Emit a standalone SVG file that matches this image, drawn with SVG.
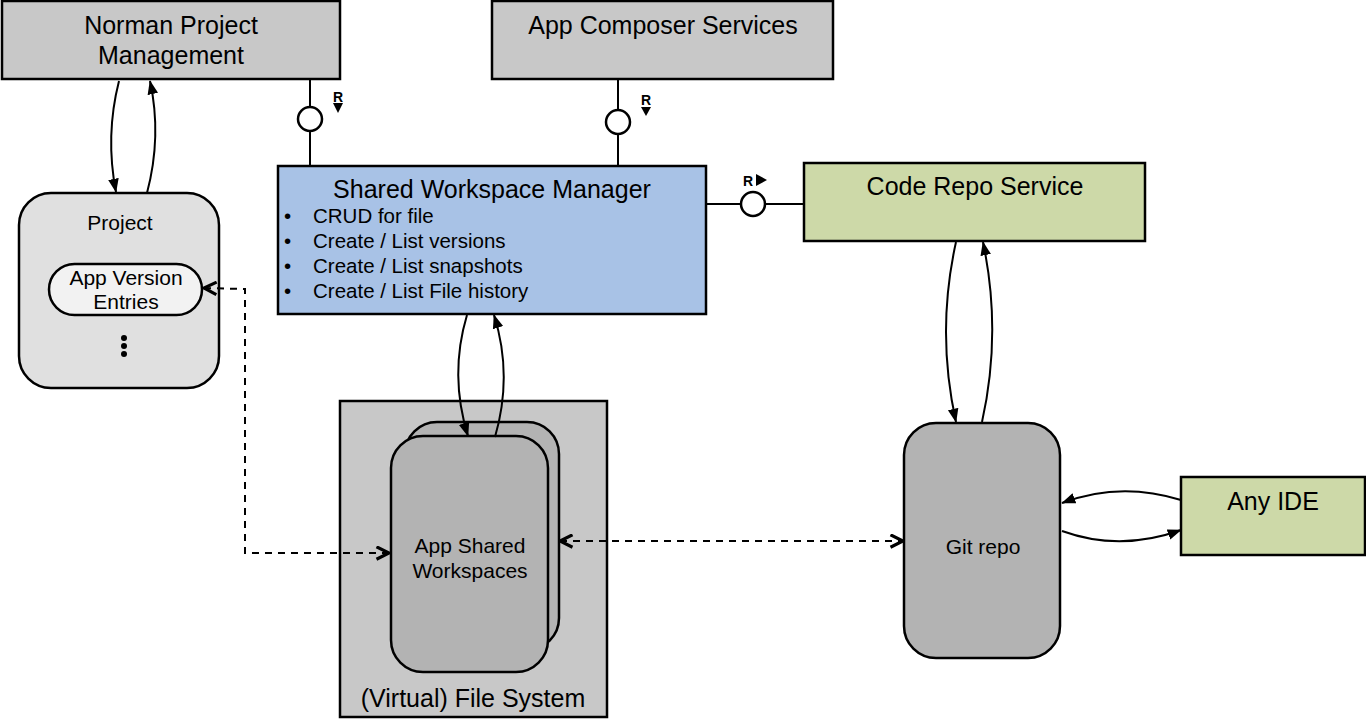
<svg xmlns="http://www.w3.org/2000/svg" width="1366" height="720" viewBox="0 0 1366 720">
<style>
text{font-family:"Liberation Sans",Arial,sans-serif;fill:#000}
.box{stroke:#000;stroke-width:2.5}
.t22{font-size:25px;text-anchor:middle}
.t18{font-size:21px;text-anchor:middle}
.b18{font-size:20.5px}
.ln{fill:none;stroke:#000;stroke-width:2}
.dash{fill:none;stroke:#000;stroke-width:2;stroke-dasharray:7,6}
.r{font-size:14px;font-weight:bold;text-anchor:middle}
</style>
<defs>
<marker id="fa" viewBox="0 0 10 10" refX="9.5" refY="5" markerWidth="14" markerHeight="14" markerUnits="userSpaceOnUse" orient="auto-start-reverse">
<path d="M0,1.2 L10,5 L0,8.8 z" fill="#000"/>
</marker>
<marker id="oa" viewBox="0 0 12 12" refX="11" refY="6" markerWidth="15" markerHeight="15" markerUnits="userSpaceOnUse" orient="auto-start-reverse">
<path d="M1,1 L11,6 L1,11" fill="none" stroke="#000" stroke-width="2.5"/>
</marker>
</defs>
<g id="norman">
<rect class="box" x="2" y="1" width="338" height="78" fill="#c8c8c8"/>
<text class="t22" x="171" y="34">Norman Project</text>
<text class="t22" x="171" y="64">Management</text>
</g>
<g id="composer">
<rect class="box" x="492" y="1" width="341" height="78" fill="#c8c8c8"/>
<text class="t22" x="663" y="34">App Composer Services</text>
</g>
<g id="swm">
<rect class="box" x="278" y="166" width="428" height="148" fill="#a8c2e6"/>
<text class="t22" x="492" y="198">Shared Workspace Manager</text>
<text class="b18" x="284" y="223">•</text>
<text class="b18" x="313" y="223">CRUD for file</text>
<text class="b18" x="284" y="248">•</text>
<text class="b18" x="313" y="248">Create / List versions</text>
<text class="b18" x="284" y="273">•</text>
<text class="b18" x="313" y="273">Create / List snapshots</text>
<text class="b18" x="284" y="298">•</text>
<text class="b18" x="313" y="298">Create / List File history</text>
</g>
<g id="coderepo">
<rect class="box" x="804" y="163" width="341" height="78" fill="#cdd9a8"/>
<text class="t22" x="975" y="195">Code Repo Service</text>
</g>
<g id="project">
<rect class="box" x="19" y="193" width="200" height="195" rx="32" fill="#e0e0e0"/>
<text class="t18" x="120" y="230">Project</text>
<rect class="box" x="49" y="264" width="153" height="51" rx="25.5" fill="#f2f2f2"/>
<text class="t18" x="126" y="285">App Version</text>
<text class="t18" x="126" y="309">Entries</text>
<circle cx="124" cy="338" r="3" fill="#000"/>
<circle cx="124" cy="346" r="3" fill="#000"/>
<circle cx="124" cy="354" r="3" fill="#000"/>
</g>
<g id="filesystem">
<rect class="box" x="340" y="401" width="267" height="316" fill="#c8c8c8"/>
<text class="t22" x="473" y="707">(Virtual) File System</text>
</g>
<g id="workspaces">
<rect class="box" x="405" y="422" width="154" height="228" rx="32" fill="#b3b3b3"/>
<rect class="box" x="391" y="436" width="157" height="236" rx="32" fill="#b3b3b3"/>
<text class="t18" x="470" y="553">App Shared</text>
<text class="t18" x="470" y="578">Workspaces</text>
</g>
<g id="git">
<rect class="box" x="904" y="423" width="156" height="235" rx="32" fill="#b3b3b3"/>
<text class="t18" x="983" y="554">Git repo</text>
</g>
<g id="anyide">
<rect class="box" x="1181" y="477" width="184" height="78" fill="#cdd9a8"/>
<text class="t22" x="1273" y="510">Any IDE</text>
</g>
<g id="connectors">
<line class="ln" x1="310" y1="80" x2="310" y2="107"/>
<line class="ln" x1="310" y1="131" x2="310" y2="165"/>
<circle cx="310" cy="119" r="12" fill="#fff" stroke="#000" stroke-width="2.5"/>
<text class="r" x="338" y="102">R</text>
<path d="M333,103 L343,103 L338,113 z" fill="#000"/>
<line class="ln" x1="618" y1="80" x2="618" y2="110"/>
<line class="ln" x1="618" y1="134" x2="618" y2="165"/>
<circle cx="618" cy="122" r="12" fill="#fff" stroke="#000" stroke-width="2.5"/>
<text class="r" x="646" y="105">R</text>
<path d="M641,107 L651,107 L646,116 z" fill="#000"/>
<line class="ln" x1="707" y1="204" x2="741" y2="204"/>
<line class="ln" x1="765" y1="204" x2="803" y2="204"/>
<circle cx="753" cy="204" r="12" fill="#fff" stroke="#000" stroke-width="2.5"/>
<text class="r" x="748" y="186">R</text>
<path d="M756,174 L767,180 L756,186 z" fill="#000"/>
<path class="ln" d="M119,81 Q105,136 116,192" marker-end="url(#fa)"/>
<path class="ln" d="M147,193 Q162,136 150,81" marker-end="url(#fa)"/>
<path class="ln" d="M467,315 Q449,375 468,436" marker-end="url(#fa)"/>
<path class="ln" d="M495,437 Q513,375 494,315" marker-end="url(#fa)"/>
<path class="ln" d="M956,242 Q936,332 956,422" marker-end="url(#fa)"/>
<path class="ln" d="M982,422 Q1002,332 983,242" marker-end="url(#fa)"/>
<path class="ln" d="M1181,500 Q1120,481 1062,503" marker-end="url(#fa)"/>
<path class="ln" d="M1062,531 Q1120,552 1181,530" marker-end="url(#fa)"/>
<polyline class="dash" points="204,288 245,289 245,553 389,553" marker-start="url(#oa)" marker-end="url(#oa)"/>
<line class="dash" x1="560" y1="541" x2="903" y2="541" marker-start="url(#oa)" marker-end="url(#oa)"/>
</g>
</svg>
